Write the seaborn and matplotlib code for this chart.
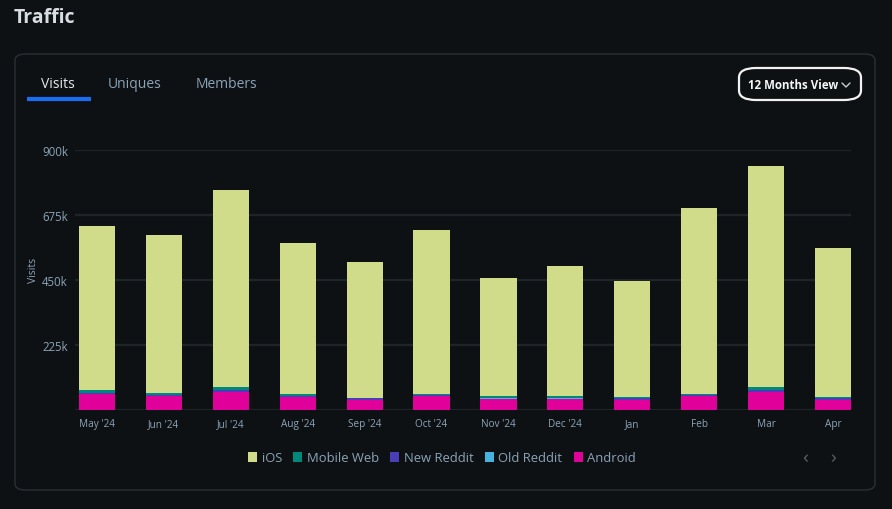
import matplotlib
matplotlib.use("Agg")
import matplotlib.pyplot as plt
import seaborn as sns
import pandas as pd
import numpy as np
from matplotlib.patches import FancyBboxPatch, Patch
from matplotlib.lines import Line2D

months = ["May '24", "Jun '24", "Jul '24", "Aug '24", "Sep '24", "Oct '24",
          "Nov '24", "Dec '24", "Jan", "Feb", "Mar", "Apr"]
android = [54000, 48000, 61000, 45000, 34000, 48000, 39000, 39000, 34000, 48000, 61000, 34000]
old_reddit = [1500, 1500, 1500, 1500, 1500, 1500, 1500, 1500, 1500, 1500, 1500, 1500]
new_reddit = [4500, 3500, 5500, 2500, 4500, 2500, 2500, 2500, 4500, 2500, 5500, 5000]
mobile_web = [8000, 5000, 10000, 6000, 2000, 5000, 5000, 5000, 4000, 5000, 10000, 6000]
ios = [569000, 548000, 683000, 523000, 470000, 566000, 409000, 450000, 403000, 642000, 767000, 514000]
yticks = [0, 225000, 450000, 675000, 900000]
ytick_labels = ["", "225k", "450k", "675k", "900k"]

series = ["iOS", "Mobile Web", "New Reddit", "Old Reddit", "Android"]
colors = {"iOS": "#d0dc89", "Mobile Web": "#00897a", "New Reddit": "#4a3db8",
          "Old Reddit": "#45b2e0", "Android": "#e0009a"}

BG = "#0e1114"
TXT = "#8ba3b6"

sns.set_theme(style="dark")
plt.rcParams["font.family"] = ["Open Sans", "DejaVu Sans"]

df = pd.DataFrame({"month": months, "Android": android, "Old Reddit": old_reddit,
                   "New Reddit": new_reddit, "Mobile Web": mobile_web, "iOS": ios})
order_bottom_up = ["Android", "Old Reddit", "New Reddit", "Mobile Web", "iOS"]
cum = df[order_bottom_up].cumsum(axis=1)

W, H = 892, 510
fig = plt.figure(figsize=(W / 100, H / 100), dpi=100)
fig.patch.set_facecolor(BG)

def fx(x):
    return x / W

def fy(y):
    return 1 - y / H

# card
card = FancyBboxPatch((fx(15), fy(491)), fx(875) - fx(15), fy(55) - fy(491),
                      boxstyle="round,pad=0,rounding_size=0.012",
                      transform=fig.transFigure, facecolor=BG, edgecolor="#2b3035",
                      linewidth=1.0, zorder=-5)
fig.patches.append(card)

ax = fig.add_axes([fx(75), fy(411), fx(851) - fx(75), fy(151) - fy(411)])
ax.set_facecolor(BG)
ax.patch.set_alpha(0)

for s in reversed(order_bottom_up):
    sns.barplot(x=df["month"], y=cum[s], color=colors[s], width=0.54,
                saturation=1, ax=ax, zorder=3, linewidth=0)

ax.set_xlim(-0.33, 11.27)
ax.set_ylim(0, 900000)
ax.set_yticks(yticks)
ax.set_yticklabels(ytick_labels)
ax.set_axisbelow(True)
ax.yaxis.grid(True, color="#1f2428", linewidth=1.6)
ax.xaxis.grid(False)
for sp in ax.spines.values():
    sp.set_visible(False)
ax.tick_params(axis="both", length=0, colors=TXT)
ax.tick_params(axis="y", labelsize=8.3, pad=5)
ax.tick_params(axis="x", labelsize=7.2, pad=6)
ax.set_xlabel("")
ax.set_ylabel("Visits", color=TXT, fontsize=7.5)
ax.yaxis.set_label_coords(-0.046, 0.54)

# title and tabs
fig.text(fx(14), fy(18), "Traffic", color="#d7dde2", fontsize=14,
         fontweight="bold", va="center", ha="left")
fig.text(fx(58), fy(84.5), "Visits", color="#e4e8ec", fontsize=10, va="center", ha="center")
fig.text(fx(135), fy(84.5), "Uniques", color=TXT, fontsize=10, va="center", ha="center")
fig.text(fx(226), fy(84.5), "Members", color=TXT, fontsize=10, va="center", ha="center")
fig.add_artist(Line2D([fx(27), fx(91)], [fy(100), fy(100)], color="#1a6cf0",
                      linewidth=3, transform=fig.transFigure, solid_capstyle="butt"))

# 12 Months View pill
pill = FancyBboxPatch((fx(739), fy(101)), fx(861) - fx(739), fy(69) - fy(101),
                      boxstyle="round,pad=0,rounding_size=0.019",
                      transform=fig.transFigure, facecolor=BG, edgecolor="#f2f2f2",
                      linewidth=1.6, mutation_aspect=H / W * 1.75, zorder=-4)
fig.patches.append(pill)
fig.text(fx(793), fy(85.5), "12 Months View", color="#f4f6f8", fontsize=8.3,
         fontweight="bold", va="center", ha="center")
fig.add_artist(Line2D([fx(842), fx(846), fx(850)], [fy(84), fy(88), fy(84)],
                      color="#c8ccd0", linewidth=1, transform=fig.transFigure))

# legend
handles = [Patch(facecolor=colors[s], edgecolor="none", label=s) for s in series]
leg = fig.legend(handles=handles, loc="center", bbox_to_anchor=(fx(442), fy(459)),
                 ncol=5, frameon=False, fontsize=9.4, handlelength=0.7,
                 handleheight=0.7, handletextpad=0.35, columnspacing=0.85)
for t in leg.get_texts():
    t.set_color(TXT)

# pagination arrows
fig.text(fx(805), fy(458), "‹", color="#5a6066", fontsize=14, va="center", ha="center")
fig.text(fx(833), fy(458), "›", color="#5a6066", fontsize=14, va="center", ha="center")

fig.savefig("out.png", dpi=100, facecolor=BG)
